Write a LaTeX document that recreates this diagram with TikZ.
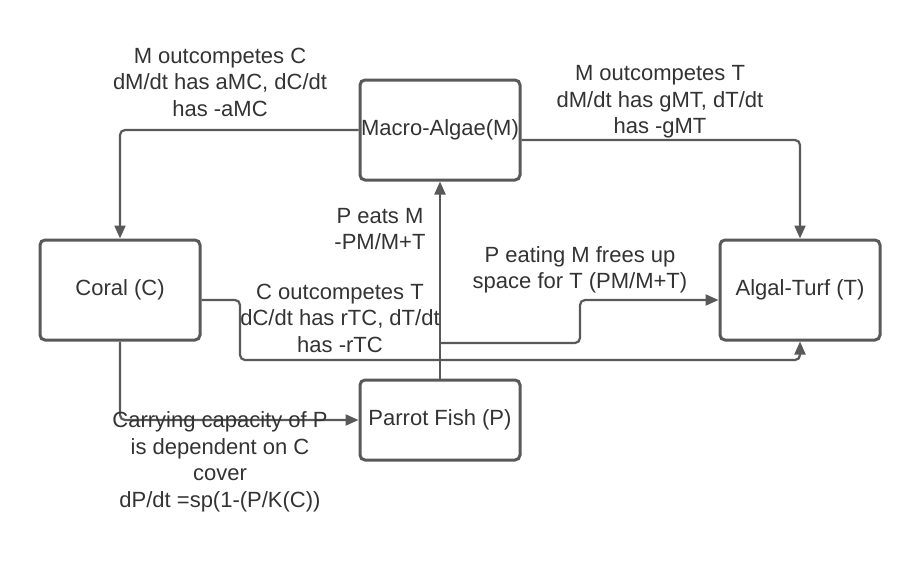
\documentclass[tikz,border=0pt]{standalone}
\usepackage{fontspec}
\setmainfont{Liberation Sans}
\usetikzlibrary{arrows.meta}
\definecolor{linegray}{HTML}{595959}
\definecolor{textgray}{HTML}{333333}
\tikzset{
	box/.style={draw=linegray, line width=3pt, rounded corners=5pt, minimum width=160pt, inner sep=0pt, text=textgray},
	link/.style={draw=linegray, line width=2.2pt, rounded corners=5pt, -{Triangle[length=13pt,width=11pt]}},
	plain/.style={draw=linegray, line width=2.2pt, rounded corners=5pt},
	lbl/.style={align=center, inner sep=0pt, text=textgray}
}
\begin{document}
\begin{tikzpicture}[x=1pt, y=-1pt, font=\fontsize{22}{26.5}\selectfont]
			\useasboundingbox (0, 0) rectangle (920, 563);
			%%draw the boxes
			\node[box, minimum height=100pt] (ma) at (440, 130){Macro-Algae(M)};
			\node[box, minimum height=100pt] (co) at (120, 290){Coral (C)};
			\node[box, minimum height=100pt] (at) at (800, 290){Algal-Turf (T)};
			\node[box, minimum height=80pt] (pf) at (440, 420){Parrot Fish (P)};

			%%turning points
			\coordinate (mtY) at (0, 140);
			\coordinate (ctY) at (0, 300);
			\coordinate (ctB) at (240, 360);
			\coordinate (brA) at (440, 343);
			\coordinate (brB) at (580, 300);

			%%draw the links
			\draw[link] (ma.west) -| (co.north);
			\draw[link] (ma.east |- mtY) -| (at.north);
			\draw[link] (co.east |- ctY) -| (ctB) -| (at.south);
			\draw[link] (co.south) |- (pf.west);
			\draw[link] (pf.north) -- (ma.south);
			\draw[link] (brA) -| (brB) -- (at.west |- brB);

			%%draw the labels
			\node[lbl] (lmc) at (220, 82){M outcompetes C\\dM/dt has aMC, dC/dt\\has -aMC};
			\node[lbl] (lmt) at (660, 102){M outcompetes T\\dM/dt has gMT, dT/dt\\has -gMT};
			\node[lbl] (lpm) at (380, 229){P eats M\\-PM/M+T};
			\node[lbl] (lpt) at (580, 270){P eating M frees up\\space for T (PM/M+T)};
			\node[lbl] (lct) at (340, 318){C outcompetes T\\dC/dt has rTC, dT/dt\\has -rTC};
			\node[lbl] (lkp) at (220, 462){Carrying capacity of P\\is dependent on C\\cover\\dP/dt =sp(1-(P/K(C))};
		\end{tikzpicture}
\end{document}
